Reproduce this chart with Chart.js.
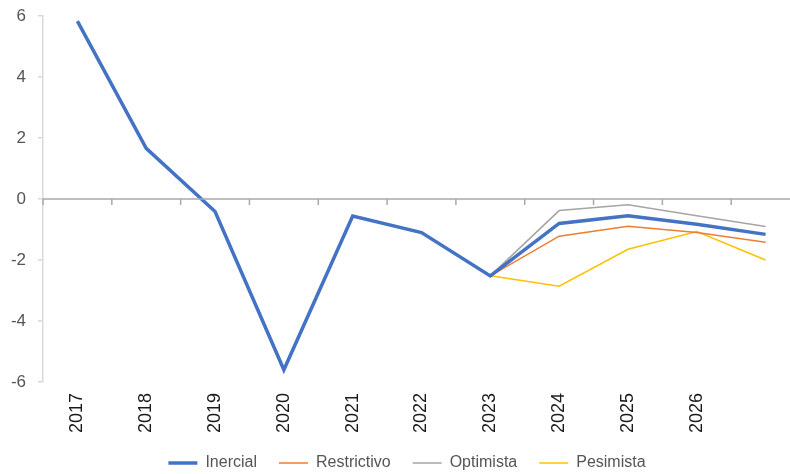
<!DOCTYPE html>
<html>
<head>
<meta charset="utf-8">
<script src="https://cdn.jsdelivr.net/npm/chart.js@4/dist/chart.umd.min.js"></script>
<style>
  html, body { margin: 0; padding: 0; background: #fff; overflow: hidden; }
  #wrap { width: 814px; height: 474px; }
</style>
</head>
<body>
<div id="wrap"><canvas id="chart" width="814" height="474"></canvas></div>
<script>
const years = ["2017", "2018", "2019", "2020", "2021", "2022", "2023", "2024", "2025", "2026", ""];
const inercial    = [5.83, 1.66, -0.41, -5.6, -0.56, -1.1, -2.52, -0.8, -0.55, -0.83, -1.16];
const restrictivo = [null, null, null, null, null, null, -2.52, -1.22, -0.89, -1.1, -1.42];
const optimista   = [null, null, null, null, null, null, -2.52, -0.38, -0.19, -0.55, -0.9];
const pesimista   = [null, null, null, null, null, null, -2.52, -2.86, -1.65, -1.07, -2.0];
const yTicks = [-6, -4, -2, 0, 2, 4, 6];

// eje horizontal en el cero con marcas entre categorías
const zeroAxis = {
    id: "zeroAxis",
    afterDatasetsDraw(chart) {
        const { ctx, chartArea, scales } = chart;
        const x = scales.x, y = scales.y;
        const y0 = y.getPixelForValue(0);
        ctx.save();
        ctx.strokeStyle = "#a9a9a9";
        ctx.lineWidth = 1.5;
        ctx.beginPath();
        ctx.moveTo(chartArea.left, y0);
        ctx.lineTo(chartArea.right, y0);
        for (let i = 0; i < years.length; i++) {
            const bx = i === 0 ? chartArea.left : (x.getPixelForValue(i - 1) + x.getPixelForValue(i)) / 2;
            ctx.moveTo(bx, y0);
            ctx.lineTo(bx, y0 + 6);
        }
        ctx.stroke();
        ctx.restore();
    }
};

new Chart(document.getElementById("chart"), {
    type: "line",
    data: {
        labels: years,
        datasets: [
            { label: "Inercial", data: inercial, borderColor: "#4472C4", backgroundColor: "#4472C4", borderWidth: 3.5 },
            { label: "Restrictivo", data: restrictivo, borderColor: "#ED7D31", backgroundColor: "#ED7D31", borderWidth: 1.5 },
            { label: "Optimista", data: optimista, borderColor: "#A5A5A5", backgroundColor: "#A5A5A5", borderWidth: 1.5 },
            { label: "Pesimista", data: pesimista, borderColor: "#FFC000", backgroundColor: "#FFC000", borderWidth: 1.5 }
        ]
    },
    options: {
        responsive: false,
        animation: false,
        layout: { padding: 0 },
        elements: { point: { radius: 0 }, line: { tension: 0 } },
        scales: {
            x: {
                offset: true,
                afterFit(scale) { scale.height = 51; },
                grid: { display: false, drawTicks: false },
                border: { display: false },
                ticks: {
                    minRotation: 90, maxRotation: 90, padding: 11,
                    color: "#1a1a1a",
                    font: { family: "Liberation Sans", size: 18 }
                }
            },
            y: {
                min: -6, max: 6,
                afterFit(scale) { scale.width = 43; scale.paddingTop = 16; },
                afterBuildTicks(scale) { scale.ticks = yTicks.map(v => ({ value: v })); },
                grid: { drawOnChartArea: false, drawTicks: true, tickLength: 5, color: "#d9d9d9", lineWidth: 1.5 },
                border: { display: true, color: "#d9d9d9", width: 1.5 },
                ticks: {
                    padding: 12,
                    color: "#555",
                    font: { family: "Liberation Sans", size: 17 }
                }
            },
            // eje vacío a la derecha, solo reserva el margen
            yRight: {
                position: "right",
                min: -6, max: 6,
                afterFit(scale) { scale.width = 14; },
                grid: { display: false },
                border: { display: false },
                ticks: { display: false }
            }
        },
        plugins: {
            legend: {
                position: "bottom",
                maxHeight: 41,
                labels: {
                    usePointStyle: true,
                    pointStyle: "line",
                    pointStyleWidth: 29,
                    boxHeight: 4,
                    padding: 22,
                    color: "#555",
                    font: { family: "Liberation Sans", size: 16, lineHeight: 0.25 }
                }
            },
            tooltip: { enabled: false }
        }
    },
    plugins: [zeroAxis]
});
</script>
</body>
</html>
